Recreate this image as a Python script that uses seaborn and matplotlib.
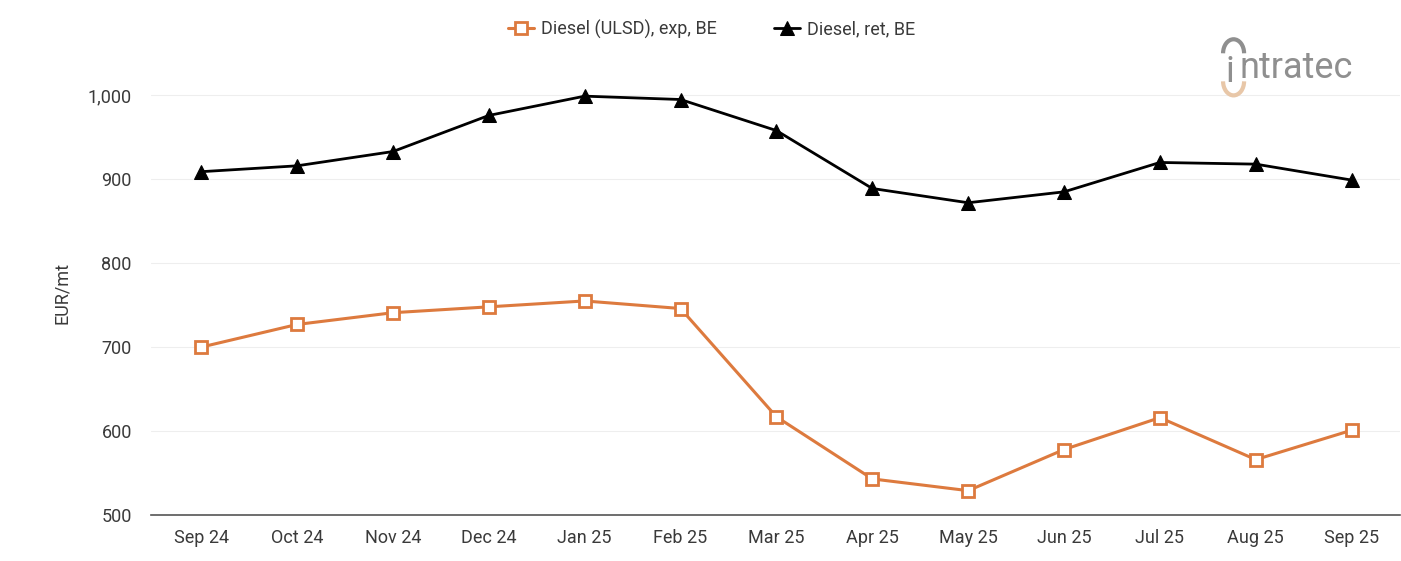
import matplotlib
matplotlib.use("Agg")
import matplotlib.pyplot as plt
import seaborn as sns
from matplotlib.patches import Arc

months = ["Sep 24", "Oct 24", "Nov 24", "Dec 24", "Jan 25", "Feb 25", "Mar 25",
          "Apr 25", "May 25", "Jun 25", "Jul 25", "Aug 25", "Sep 25"]
diesel_exp = [700, 727, 741, 748, 755, 746, 617, 543, 529, 578, 616, 566, 601]
diesel_ret = [909, 916, 933, 976, 999, 995, 958, 889, 872, 885, 920, 918, 899]
series_names = ["Diesel (ULSD), exp, BE", "Diesel, ret, BE"]
yticks = [500, 600, 700, 800, 900, 1000]

sns.set_theme(style="white")
plt.rcParams['font.family'] = ['Roboto', 'DejaVu Sans']

fig = plt.figure(figsize=(14.01, 5.61), dpi=100)
ax = fig.add_axes([0.108, 0.082, 0.891, 0.79])

x = list(range(len(months)))
orange = "#DD7A3E"
text_col = "#3a3a3a"
sns.lineplot(x=x, y=diesel_exp, ax=ax, color=orange, linewidth=2.2, marker="s",
             markersize=8, markerfacecolor="white", markeredgecolor=orange,
             markeredgewidth=2, label=series_names[0])
sns.lineplot(x=x, y=diesel_ret, ax=ax, color="black", linewidth=2.0, marker="^",
             markersize=10, markerfacecolor="black", markeredgecolor="black",
             label=series_names[1])

ax.set_xlim(-0.52, 12.5)
ax.set_ylim(500, 1028)
ax.set_yticks(yticks)
ax.set_yticklabels([f"{v:,}" for v in yticks])
ax.set_xticks(x)
ax.set_xticklabels(months)
ax.tick_params(axis="both", labelsize=13, colors=text_col, length=0)
ax.tick_params(axis="x", pad=10)
ax.tick_params(axis="y", pad=14)
ax.grid(axis="y", color="#eeeeee", linewidth=0.8)
ax.set_axisbelow(True)
for s in ["top", "right", "left"]:
    ax.spines[s].set_visible(False)
ax.spines["bottom"].set_color("#555555")
ax.spines["bottom"].set_linewidth(1.2)
ax.set_ylabel("EUR/mt", fontsize=13, color=text_col, labelpad=12)
ax.set_xlabel("")

handles, labels = ax.get_legend_handles_labels()
ax.get_legend().remove()
leg = fig.legend(handles, labels, loc="center", bbox_to_anchor=(0.508, 0.948), ncol=2,
                 frameon=False, fontsize=13, handlelength=1.4, columnspacing=3.2,
                 handletextpad=0.4)
for t in leg.get_texts():
    t.set_color(text_col)

# logo
logo_gray = "#8f8f8f"
fig.text(0.8845, 0.878, "ntratec", fontsize=26, color=logo_gray,
         fontweight="normal", ha="left", va="center")
fig.text(0.8745, 0.872, "i", fontsize=26, color=logo_gray,
         fontweight="normal", ha="left", va="center")
fig.patches.append(Arc((0.8805, 0.905), 0.015, 0.05, theta1=0, theta2=180,
                       transform=fig.transFigure, color=logo_gray, lw=3))
fig.patches.append(Arc((0.8805, 0.855), 0.015, 0.05, theta1=180, theta2=360,
                       transform=fig.transFigure, color="#e8c7a8", lw=3))

fig.savefig("out.png", dpi=100)
